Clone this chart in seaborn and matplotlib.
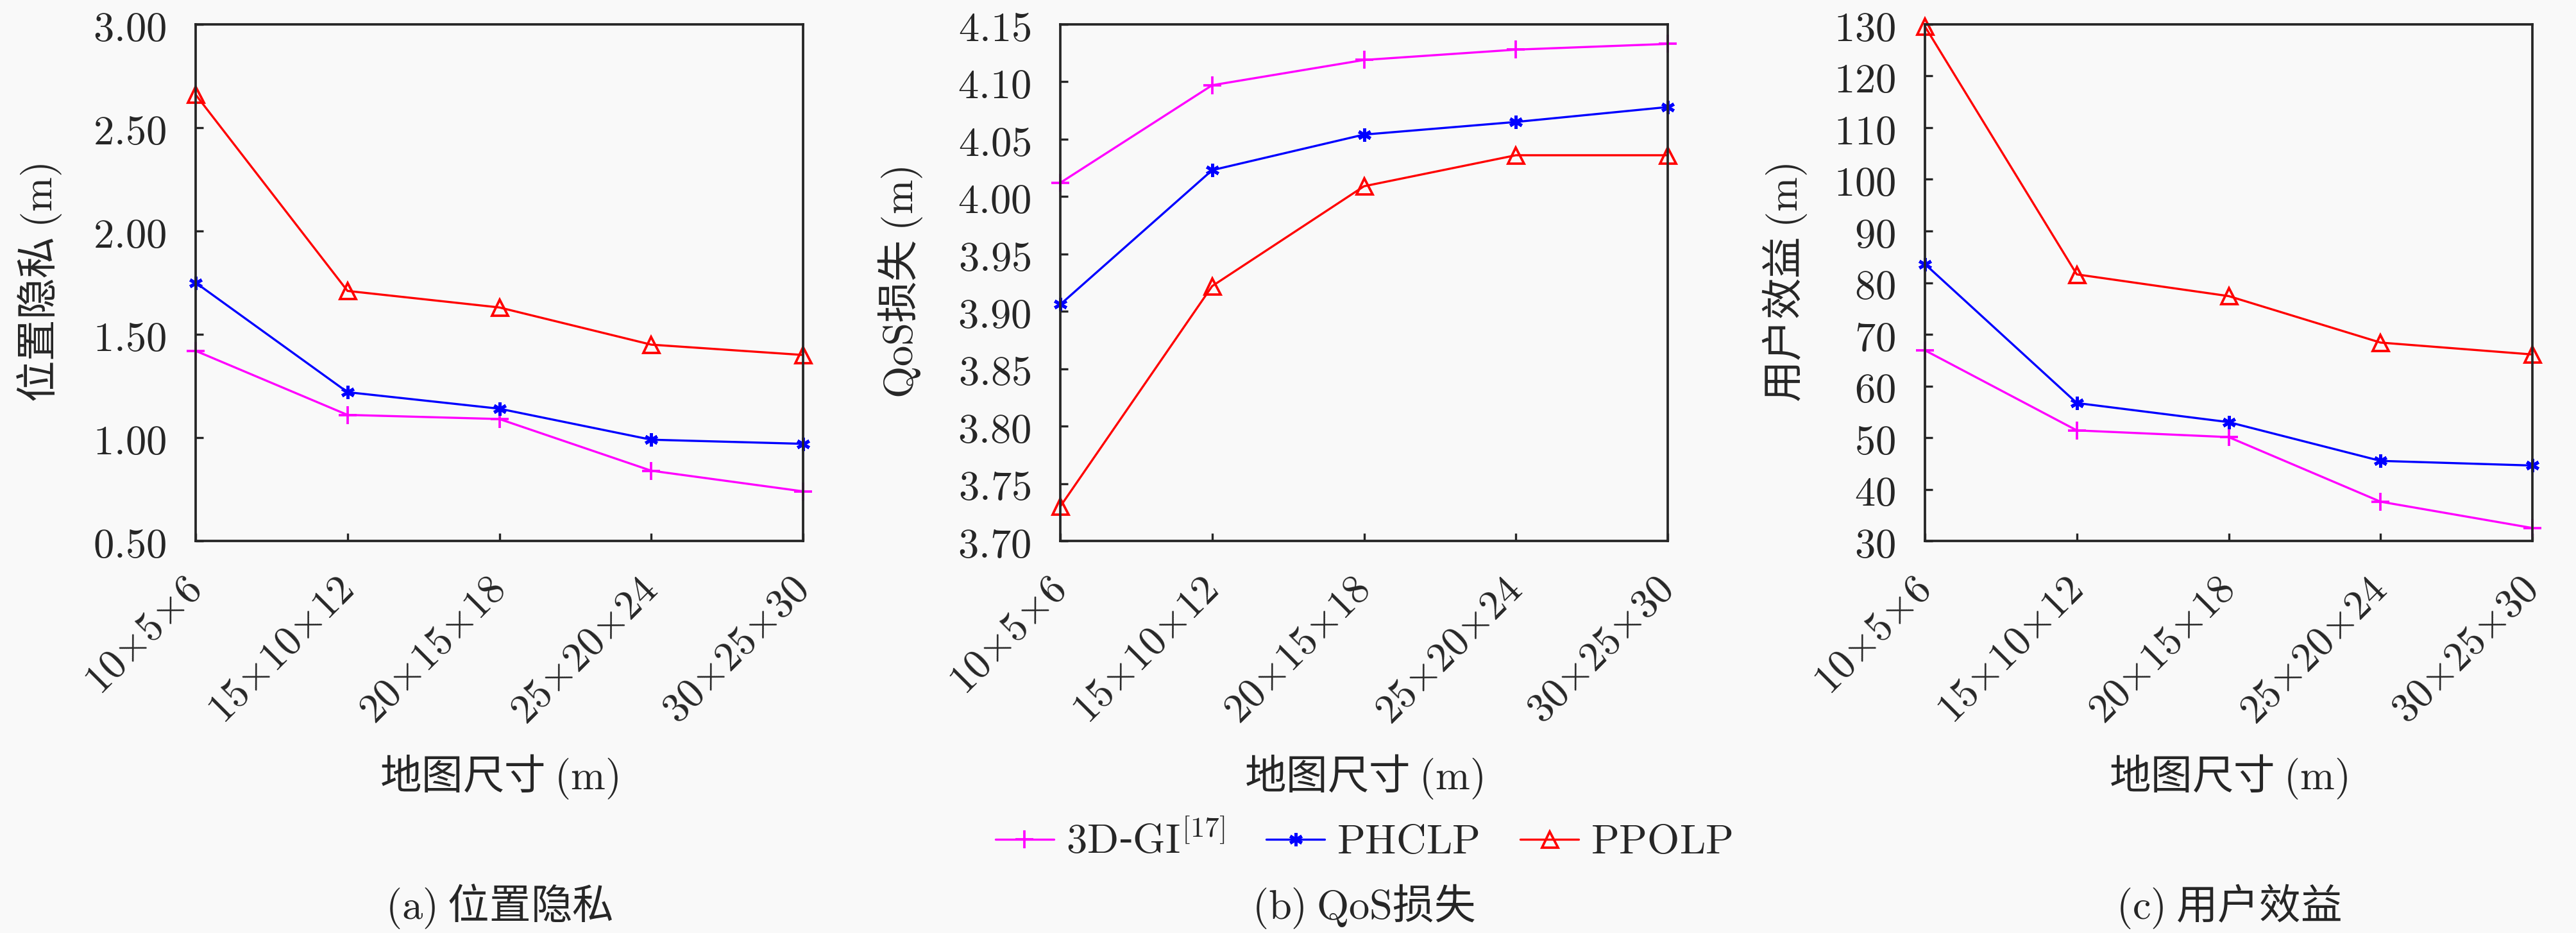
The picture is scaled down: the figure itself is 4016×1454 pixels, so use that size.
import numpy as np
import pandas as pd
import matplotlib
matplotlib.use("Agg")
import matplotlib.pyplot as plt
import seaborn as sns

# data
map_sizes = [r"$10{\times}5{\times}6$", r"$15{\times}10{\times}12$", r"$20{\times}15{\times}18$",
             r"$25{\times}20{\times}24$", r"$30{\times}25{\times}30$"]
methods = [r"$\mathrm{3D}$-$\mathrm{GI}^{[17]}$", r"$\mathrm{PHCLP}$", r"$\mathrm{PPOLP}$"]

privacy_3dgi = [1.42, 1.11, 1.09, 0.84, 0.74]
privacy_phclp = [1.75, 1.22, 1.14, 0.99, 0.97]
privacy_ppolp = [2.66, 1.71, 1.63, 1.45, 1.40]

qos_3dgi = [4.012, 4.097, 4.119, 4.128, 4.133]
qos_phclp = [3.906, 4.023, 4.054, 4.065, 4.078]
qos_ppolp = [3.730, 3.922, 4.009, 4.036, 4.036]

utility_3dgi = [66.9, 51.4, 50.1, 37.6, 32.5]
utility_phclp = [83.6, 56.7, 53.0, 45.5, 44.6]
utility_ppolp = [129.6, 81.6, 77.4, 68.4, 66.1]

ylabels = [r"位置隐私 $\mathrm{(m)}$", r"$\mathrm{QoS}$损失 $\mathrm{(m)}$", r"用户效益 $\mathrm{(m)}$"]
captions = [r"$\mathrm{(a)}$ 位置隐私", r"$\mathrm{(b)}$ $\mathrm{QoS}$损失", r"$\mathrm{(c)}$ 用户效益"]
xlabel = r"地图尺寸 $\mathrm{(m)}$"
yticks_list = [np.arange(0.5, 3.01, 0.5), np.arange(3.70, 4.151, 0.05), np.arange(30, 131, 10)]
ytick_fmt = ["{:.2f}", "{:.2f}", "{:.0f}"]

colors = ["#ff00ff", "#0000ff", "#ff0000"]
markers = ["+", (6, 2, 0), "^"]
msizes = [6.5, 5.0, 6.0]

sns.set_theme(style="white")
bg = "#f9f9f9"
plt.rcParams["font.family"] = ["Noto Sans CJK SC", "DejaVu Sans"]
plt.rcParams["mathtext.fontset"] = "cm"
plt.rcParams["font.size"] = 15.5

fig = plt.figure(figsize=(4016 / 300, 1454 / 300), dpi=300, facecolor=bg)

W, H = 4016, 1454
lefts = [305, 1653, 3001]
ax_w = 947
top, bottom = 38, 843
ylabel_x = [-0.257, -0.263, -0.231]

panels = [
    [privacy_3dgi, privacy_phclp, privacy_ppolp],
    [qos_3dgi, qos_phclp, qos_ppolp],
    [utility_3dgi, utility_phclp, utility_ppolp],
]

x = np.arange(len(map_sizes))
axes = []
for i, series in enumerate(panels):
    ax = fig.add_axes([lefts[i] / W, 1 - bottom / H, ax_w / W, (bottom - top) / H])
    ax.set_facecolor(bg)
    for j, vals in enumerate(series):
        df = pd.DataFrame({"x": x, "y": vals})
        sns.lineplot(data=df, x="x", y="y", ax=ax, color=colors[j], marker=markers[j],
                     markersize=msizes[j], linewidth=0.8, label=methods[j],
                     markerfacecolor="none" if j == 2 else colors[j],
                     markeredgecolor=colors[j], markeredgewidth=1.2 if j == 1 else 0.9,
                     clip_on=False, legend=False)
    ax.set_xlim(0, 4)
    yt = yticks_list[i]
    ax.set_ylim(yt[0], yt[-1])
    ax.set_yticks(yt, labels=["$" + ytick_fmt[i].format(v) + "$" for v in yt])
    ax.set_xticks(x)
    ax.set_xticklabels(map_sizes, rotation=45, ha="right", va="center",
                       rotation_mode="anchor")
    ax.tick_params(axis="both", direction="in", length=2.9, width=0.8,
                   color="#262626", labelsize=15.5, left=True, bottom=True)
    ax.tick_params(axis="y", pad=11)
    ax.tick_params(axis="x", pad=16)
    for sp in ax.spines.values():
        sp.set_color("#262626")
        sp.set_linewidth(0.9)
        sp.set_visible(True)
    ax.set_xlabel(xlabel, fontsize=15.5)
    ax.xaxis.label.set_va("center")
    ax.xaxis.set_label_coords(0.5, -0.456)
    ax.set_ylabel(ylabels[i], fontsize=15.5)
    ax.yaxis.label.set_va("center")
    ax.yaxis.set_label_coords(ylabel_x[i], 0.5)
    cx = (lefts[i] + ax_w / 2) / W
    fig.text(cx, 1 - 1412 / H, captions[i], ha="center", va="center", fontsize=15.5)
    axes.append(ax)

handles = axes[0].get_lines()[:3]
fig.legend(handles, methods, loc="center", bbox_to_anchor=((1653 + 947 / 2) / W, 1 - 1312 / H),
           ncol=3, frameon=False, numpoints=1, handlelength=1.4, handletextpad=0.3,
           columnspacing=1.0, fontsize=15.5)

fig.savefig("out.png", dpi=300, facecolor=bg)
